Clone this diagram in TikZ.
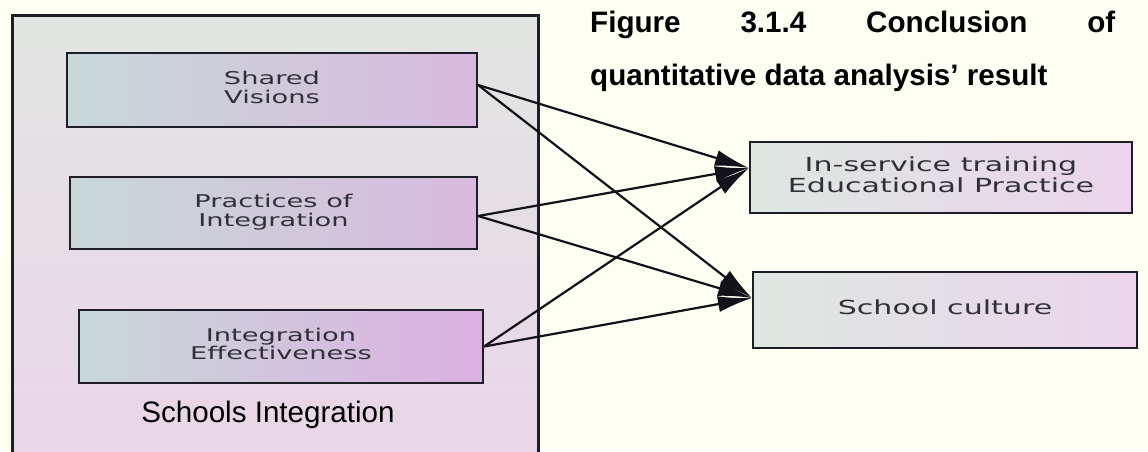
\documentclass[tikz,border=0pt]{standalone}
\usepackage{graphicx}
\usepackage{fontspec}
\setmainfont{Liberation Sans}
\newfontfamily\boxfont{DejaVu Sans}
\usetikzlibrary{arrows.meta}

\definecolor{paper}{RGB}{254,254,242}
\definecolor{edge}{RGB}{30,30,40}
\definecolor{outertop}{RGB}{226,230,226}
\definecolor{outerbot}{RGB}{234,212,233}
\definecolor{leftA}{RGB}{200,216,216}
\definecolor{leftB}{RGB}{216,186,222}
\definecolor{leftC}{RGB}{220,176,226}
\definecolor{rightA}{RGB}{222,231,225}
\definecolor{rightB}{RGB}{235,212,235}
\definecolor{boxink}{RGB}{48,48,56}
\definecolor{linkink}{RGB}{18,18,26}

% two-line label, stretched sideways
\newcommand\boxlabel[3]{\scalebox{1.55}[1]{\fontsize{#1}{#2}\selectfont\begin{tabular}{@{}c@{}}#3\end{tabular}}}

\begin{document}
\begin{tikzpicture}[x=1pt,y=-1pt,
  outerbox/.style={draw=edge, line width=2.6pt, top color=outertop, bottom color=outerbot, inner sep=0pt},
  factorbox/.style={draw=edge, line width=2.2pt, left color=leftA, right color=leftB, inner sep=0pt,
                    text=boxink, font=\boxfont},
  outcomebox/.style={draw=edge, line width=2.2pt, left color=rightA, right color=rightB, inner sep=0pt,
                     text=boxink, font=\boxfont},
  conn/.style={draw=linkink, line width=2.2pt, -{Latex[length=34pt,width=16pt]}},
  titletext/.style={inner sep=0pt, font=\bfseries\fontsize{29.6}{34}\selectfont}
]
\useasboundingbox (0,0) rectangle (1148,451);
\fill[paper] (0,0) rectangle (1148,451);
\clip (0,0) rectangle (1148,451);

% container
\node[outerbox, minimum width=526pt, minimum height=470pt, anchor=north west] (schools) at (11,14) {};
\node[anchor=base, inner sep=0pt] (schoolslabel) at (268,422) {\fontsize{29.6}{34}\selectfont Schools Integration};

% factors
\node[factorbox, minimum width=410pt, minimum height=74pt] (shared) at (272,90)
  {\boxlabel{17.6}{18}{Shared\\Visions}};
\node[factorbox, minimum width=407pt, minimum height=72pt] (practices) at (273.5,213)
  {\boxlabel{17.6}{18}{Practices of\\Integration}};
\node[factorbox, right color=leftC, minimum width=404pt, minimum height=73pt] (effect) at (281,346.5)
  {\boxlabel{17.6}{18}{Integration\\Effectiveness}};

% outcomes
\node[outcomebox, minimum width=382pt, minimum height=71pt] (training) at (941,177.5)
  {\boxlabel{19.4}{21}{In-service training\\Educational Practice}};
\node[outcomebox, minimum width=384pt, minimum height=76pt] (culture) at (945,310)
  {\boxlabel{19.4}{21}{School culture}};

% caption
\node[titletext, anchor=base west] (title1) at (590,32)
  {\makebox[525pt][l]{Figure\hfill 3.1.4\hfill Conclusion\hfill of}};
\node[titletext, anchor=base west] (title2) at (590,85)
  {quantitative data analysis’ result};

% links
\draw[conn] ([yshift=5pt]shared.east) -- ([yshift=9.5pt]training.west);
\draw[conn] ([yshift=5pt]shared.east) -- ([yshift=12pt]culture.west);
\draw[conn] ([yshift=-3pt]practices.east) -- ([yshift=9.5pt]training.west);
\draw[conn] ([yshift=-3pt]practices.east) -- ([yshift=12pt]culture.west);
\draw[conn] (effect.east) -- ([yshift=9.5pt]training.west);
\draw[conn] (effect.east) -- ([yshift=12pt]culture.west);
\end{tikzpicture}
\end{document}
